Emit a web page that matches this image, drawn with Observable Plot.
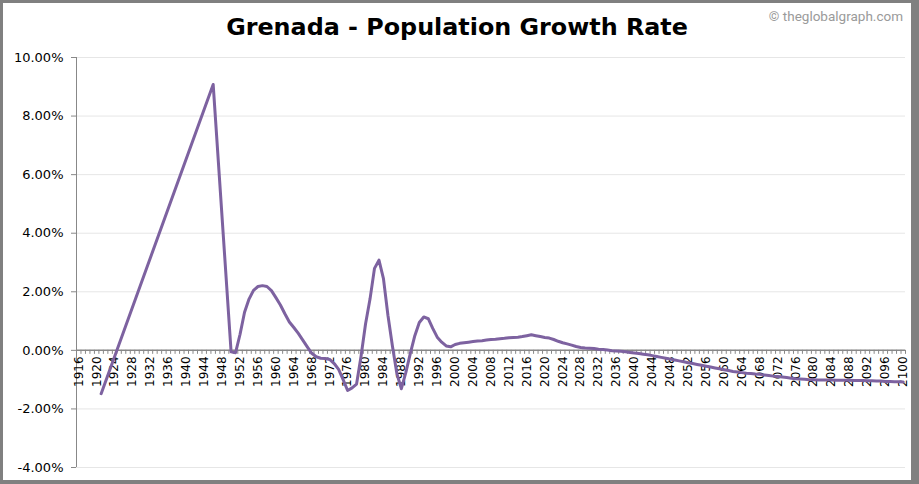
<!DOCTYPE html>
<html>
<head>
<meta charset="utf-8">
<script src="https://cdn.jsdelivr.net/npm/d3@7"></script>
<script src="https://cdn.jsdelivr.net/npm/@observablehq/plot@0.6"></script>
<style>
  html, body { margin: 0; padding: 0; }
  body { width: 919px; height: 484px; background: #808080; position: relative; overflow: hidden; }
  #panel { position: absolute; left: 3px; top: 3px; width: 908px; height: 477px; background: #ffffff; }
  #title { position: absolute; left: 0; top: 2px; width: 908px; height: 44px; text-align: center;
           font-family: "DejaVu Sans", sans-serif; font-weight: 700; color: #000; line-height: 44px; }
  #credit { position: absolute; right: 8px; top: 5px; font-family: Roboto, "DejaVu Sans", sans-serif;
            font-size: 13.5px; color: #9a9a9a; }
  #chart { position: absolute; left: 0; top: 44px; }
</style>
</head>
<body>
<div id="panel">
  <div id="title">Grenada - Population Growth Rate</div>
  <div id="credit">© theglobalgraph.com</div>
  <div id="chart"></div>
</div>
<script>
// ---- data ----
const titleText = "Grenada - Population Growth Rate";
const earlyYears = [1921, 1946];
const earlyValues = [-1.48, 9.08];
const laterYears = d3.range(1950, 2101);
const laterValues = [
  // 1950-1959
  -0.05, -0.08, 0.55, 1.30, 1.75, 2.05, 2.18, 2.21, 2.18, 2.04,
  // 1960-1969
  1.80, 1.55, 1.25, 0.97, 0.78, 0.58, 0.35, 0.12, -0.10, -0.22,
  // 1970-1979
  -0.27, -0.28, -0.31, -0.45, -0.65, -1.00, -1.37, -1.28, -1.15, -0.20,
  // 1980-1989
  0.90, 1.75, 2.80, 3.08, 2.45, 1.20, 0.15, -0.80, -1.31, -0.75,
  // 1990-1999
  -0.10, 0.50, 0.95, 1.14, 1.08, 0.75, 0.45, 0.28, 0.15, 0.12,
  // 2000-2009
  0.20, 0.24, 0.26, 0.28, 0.30, 0.32, 0.33, 0.35, 0.37, 0.38,
  // 2010-2019
  0.40, 0.41, 0.43, 0.44, 0.45, 0.47, 0.50, 0.53, 0.50, 0.47,
  // 2020-2029
  0.44, 0.42, 0.37, 0.31, 0.26, 0.22, 0.18, 0.13, 0.10, 0.08,
  // 2030-2039
  0.07, 0.06, 0.04, 0.03, 0.01, -0.01, -0.02, -0.03, -0.05, -0.07,
  // 2040-2049
  -0.09, -0.11, -0.13, -0.15, -0.18, -0.21, -0.24, -0.27, -0.30, -0.33,
  // 2050-2059
  -0.36, -0.39, -0.42, -0.45, -0.48, -0.51, -0.54, -0.57, -0.60, -0.63,
  // 2060-2069
  -0.66, -0.69, -0.72, -0.74, -0.76, -0.78, -0.79, -0.81, -0.82, -0.84,
  // 2070-2079
  -0.86, -0.88, -0.89, -0.91, -0.93, -0.95, -0.97, -0.98, -0.99, -1.00,
  // 2080-2089
  -1.00, -1.01, -1.01, -1.01, -1.01, -1.02, -1.02, -1.02, -1.02, -1.03,
  // 2090-2100
  -1.03, -1.03, -1.04, -1.04, -1.05, -1.05, -1.06, -1.06, -1.07, -1.07, -1.08
];
const allYears = d3.range(1916, 2101);           // category axis years
const labelYears = d3.range(1916, 2101, 4);      // labelled years
const yTicks = [-4, -2, 0, 2, 4, 6, 8, 10];

const series = [
  ...earlyYears.map((y, i) => ({year: y, value: earlyValues[i]})),
  ...laterYears.map((y, i) => ({year: y, value: laterValues[i]}))
];

// ---- title sizing ----
(function fitTitle() {
  const ctx = document.createElement("canvas").getContext("2d");
  ctx.font = '700 100px "DejaVu Sans"';
  const w = ctx.measureText(titleText).width;
  const size = Math.min(25, 100 * 462 / w);
  document.getElementById("title").style.fontSize = size.toFixed(2) + "px";
})();

const lineColor = "#7d62a0";
const axisColor = "#888888";
const yearPx = 829 / 185;  // width of one year band in px
const pctPx = 410 / 14;

const chart = Plot.plot({
  width: 908,
  height: 433,
  marginLeft: 73,
  marginRight: 6,
  marginTop: 10,
  marginBottom: 13,
  x: {domain: [1915.5, 2100.5], axis: null},
  y: {domain: [-4, 10], axis: null},
  style: {background: "transparent", overflow: "visible"},
  marks: [
    Plot.ruleY(yTicks, {y: d => d, stroke: "#e6e6e6", strokeWidth: 1}),
    // y axis line and ticks
    Plot.ruleX([1915.5], {y1: -4, y2: 10, stroke: axisColor}),
    Plot.ruleY(yTicks, {y: d => d, x1: 1915.5 - 5 / yearPx, x2: 1915.5, stroke: axisColor}),
    Plot.text(yTicks, {x: 1915.5, y: d => d, text: d => d.toFixed(2) + "%", textAnchor: "end",
      dx: -13, fontSize: 13, fontFamily: "DejaVu Sans", fill: "#000"}),
    // x axis at 0 with yearly ticks
    Plot.ruleY([0], {stroke: axisColor, strokeWidth: 1.5}),
    Plot.ruleX(allYears.map(d => d - 0.5).concat([2100.5]), {x: d => d, y1: 0, y2: -4 / pctPx, stroke: axisColor}),
    Plot.text(labelYears, {x: d => d, y: 0, text: d => String(d), rotate: -90, textAnchor: "end",
      dy: 6, fontSize: 12, fontFamily: "DejaVu Sans", fill: "#000"}),
    // data line
    Plot.line(series, {x: "year", y: "value", stroke: lineColor, strokeWidth: 3, curve: "linear",
      strokeLinejoin: "round", strokeLinecap: "round"})
  ]
});
document.getElementById("chart").appendChild(chart);
</script>
</body>
</html>
